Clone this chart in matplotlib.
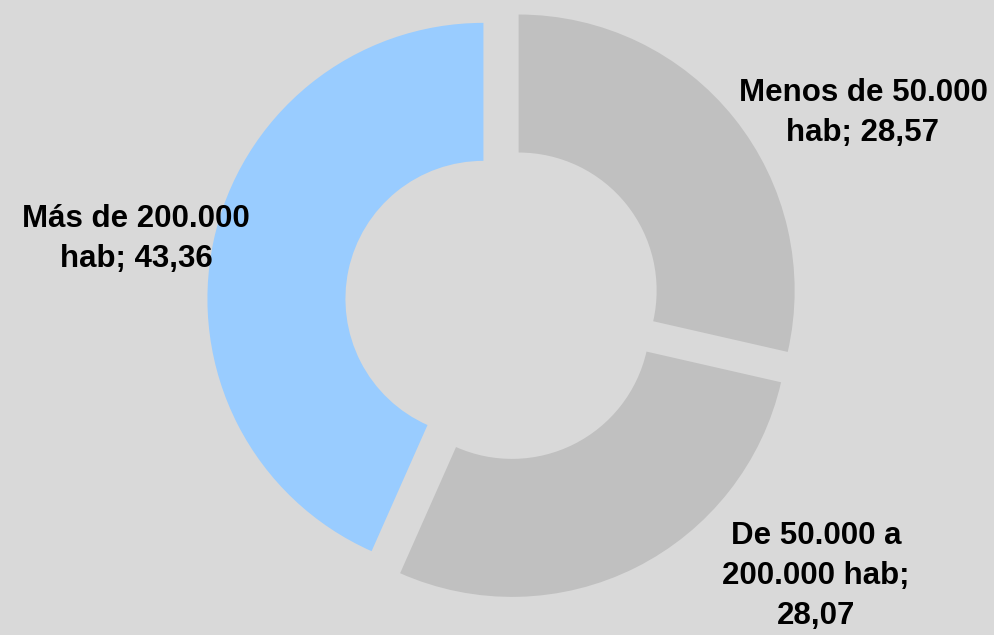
import matplotlib
matplotlib.use("Agg")
import matplotlib.pyplot as plt

categories = ["Menos de 50.000 hab", "De 50.000 a 200.000 hab", "Más de 200.000 hab"]
values = [28.57, 28.07, 43.36]
value_labels = ["28,57", "28,07", "43,36"]
label_texts = ["Menos de 50.000\nhab; 28,57", "De 50.000 a\n200.000 hab;\n28,07", "Más de 200.000\nhab; 43,36"]
colors = ["#c0c0c0", "#c0c0c0", "#99ccff"]

plt.rcParams['font.family'] = ['Liberation Sans', 'DejaVu Sans']

W, H = 995, 635
fig = plt.figure(figsize=(W / 100, H / 100), dpi=100, facecolor="#d9d9d9")
ax = fig.add_axes([0, 0, 1, 1])
ax.set_facecolor("#d9d9d9")

cx, cy = 503, H - 303
R = 276
ring = 138
ax.pie(values, colors=colors, startangle=90, counterclock=False,
       radius=R, center=(cx, cy), explode=[20, 20, 20],
       wedgeprops=dict(width=ring, linewidth=0))

label_pos = [(863, 113), (816, 576), (136, 239)]
for (x, y), t in zip(label_pos, label_texts):
    ax.text(x, H - y, t, ha="center", va="center", fontsize=22.5,
            fontweight="bold", color="black", linespacing=1.42)

ax.set_xlim(0, W)
ax.set_ylim(0, H)
ax.set_aspect("auto")
ax.axis("off")
fig.savefig("out.png", dpi=100, facecolor="#d9d9d9")
